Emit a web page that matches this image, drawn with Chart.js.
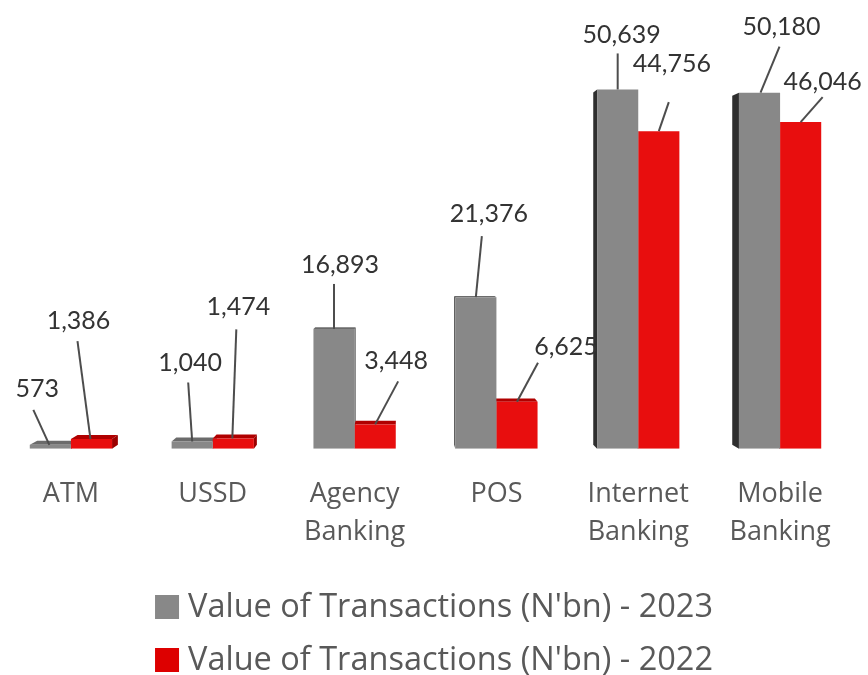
<!DOCTYPE html>
<html lang="en">
<head>
    <meta charset="UTF-8">
    <title>Value of Transactions by Channel</title>
    <style>
        html, body { margin: 0; padding: 0; background: #fff; }
        #wrap { width: 868px; height: 675px; position: relative; }
    </style>
    <script src="https://cdn.jsdelivr.net/npm/chart.js@4.4.1/dist/chart.umd.min.js"></script>
</head>
<body>
    <div id="wrap"><canvas id="channels"></canvas></div>
    <script>
        const categories = ['ATM', 'USSD', ['Agency', 'Banking'], 'POS', ['Internet', 'Banking'], ['Mobile', 'Banking']];
        const value2023 = [573, 1040, 16893, 21376, 50639, 50180];
        const value2022 = [1386, 1474, 3448, 6625, 44756, 46046];
        const seriesNames = ["Value of Transactions (N'bn) - 2023", "Value of Transactions (N'bn) - 2022"];

        // where each value label sits, relative to the top of its bar:
        // [text dx, text dy, leader start dx, leader start dy, leader end dx]
        const labelSpots2023 = [[-13, -56, -17, -35, -1], [-2, -79, -4, -59, 0], [6, -64, 0, -45, 0], [13, -83, 6, -61, 0], [4, -55, 0, -36, 0], [22, -66, 20, -46, 1]];
        const labelSpots2022 = [[-13, -118, -14, -98, -1], [5, -131, 3, -109, -1], [21, -63, 23, -43, 0], [49, -55, 21, -39, 0], [13, -67, 10, -29, 0], [22, -40, 22, -25, 0]];

        const FONT = '"Open Sans", Lato, sans-serif';
        const LABEL_FONT = 'Lato, "Open Sans", sans-serif';
        const colors = ['#888888', '#e80e0e'];
        const legendColors = ['#888888', '#dd0000'];

        // fake 3d: push every bar back towards a vanishing point and paint the visible sides
        const depthPlugin = {
            id: 'depth',
            beforeDatasetsDraw(chart) {
                const ctx = chart.ctx;
                const vx = 403, vy = 240, k = 0.02;
                const sideColors = [{top: '#6b6b6b', side: '#2e2e2e'}, {top: '#b00000', side: '#9a0000'}];
                ctx.save();
                chart.data.datasets.forEach((ds, di) => {
                    chart.getDatasetMeta(di).data.forEach(bar => {
                        const p = bar.getProps(['x', 'y', 'base', 'width'], true);
                        const l = p.x - p.width / 2, r = p.x + p.width / 2, t = p.y, b = p.base;
                        const back = (x, y) => [x + (vx - x) * k, y + (vy - y) * k];
                        const [lb, tb] = back(l, t), [rb] = back(r, t), [, bb] = back(l, b);
                        const poly = (pts, color) => {
                            ctx.beginPath();
                            ctx.moveTo(pts[0][0], pts[0][1]);
                            pts.slice(1).forEach(q => ctx.lineTo(q[0], q[1]));
                            ctx.closePath();
                            ctx.fillStyle = color;
                            ctx.fill();
                        };
                        if (tb < t) poly([[l, t], [r, t], [rb, tb], [lb, tb]], sideColors[di].top);
                        if (lb < l) poly([[l, t], [lb, tb], [lb, bb], [l, b]], sideColors[di].side);
                        if (rb > r) poly([[r, t], [rb, tb], [rb, bb], [r, b]], sideColors[di].side);
                    });
                });
                ctx.restore();
            }
        };

        // value labels with leader lines
        const calloutPlugin = {
            id: 'callouts',
            afterDatasetsDraw(chart) {
                const ctx = chart.ctx;
                const spots = [labelSpots2023, labelSpots2022];
                ctx.save();
                ctx.font = '25px ' + LABEL_FONT;
                ctx.textAlign = 'center';
                ctx.textBaseline = 'middle';
                chart.data.datasets.forEach((ds, di) => {
                    chart.getDatasetMeta(di).data.forEach((bar, i) => {
                        const s = spots[di][i];
                        const x = bar.x, y = bar.y;
                        ctx.strokeStyle = '#4d4d4d';
                        ctx.lineWidth = 2;
                        ctx.beginPath();
                        ctx.moveTo(x + s[2], y + s[3]);
                        ctx.lineTo(x + s[4], y);
                        ctx.stroke();
                        ctx.fillStyle = '#333333';
                        ctx.fillText(ds.data[i].toLocaleString('en-US'), x + s[0], y + s[1]);
                    });
                });
                ctx.restore();
            }
        };

        // stacked legend under the axis, one series per row
        const stackedLegend = {
            id: 'stackedLegend',
            afterDraw(chart) {
                const ctx = chart.ctx;
                const rowY = [607, 660];
                ctx.save();
                ctx.font = '32.5px ' + FONT;
                ctx.textBaseline = 'middle';
                ctx.textAlign = 'left';
                chart.data.datasets.forEach((ds, di) => {
                    const tw = ctx.measureText(ds.label).width;
                    const x0 = (chart.width - (24 + 9 + tw)) / 2;
                    ctx.fillStyle = legendColors[di];
                    ctx.fillRect(x0, rowY[di] - 12, 24, 24);
                    ctx.fillStyle = '#595959';
                    ctx.fillText(ds.label, x0 + 33, rowY[di] + 1);
                });
                ctx.restore();
            }
        };

        new Chart(document.getElementById('channels'), {
            type: 'bar',
            data: {
                labels: categories,
                datasets: [{
                    label: seriesNames[0],
                    data: value2023,
                    backgroundColor: colors[0]
                }, {
                    label: seriesNames[1],
                    data: value2022,
                    backgroundColor: colors[1]
                }]
            },
            options: {
                responsive: true,
                maintainAspectRatio: false,
                animation: false,
                datasets: {
                    bar: { categoryPercentage: 0.58, barPercentage: 1 }
                },
                layout: { padding: { left: 0, right: 17, top: 23, bottom: 98 } },
                scales: {
                    x: {
                        grid: { display: false, drawTicks: false },
                        border: { display: false },
                        ticks: {
                            color: '#595959',
                            padding: 26,
                            font: { family: FONT, size: 27, lineHeight: 1.41 }
                        }
                    },
                    y: { display: false, min: 0, max: 60000 }
                },
                plugins: {
                    tooltip: { enabled: false },
                    legend: { display: false }
                }
            },
            plugins: [depthPlugin, calloutPlugin, stackedLegend]
        });
    </script>
</body>
</html>
